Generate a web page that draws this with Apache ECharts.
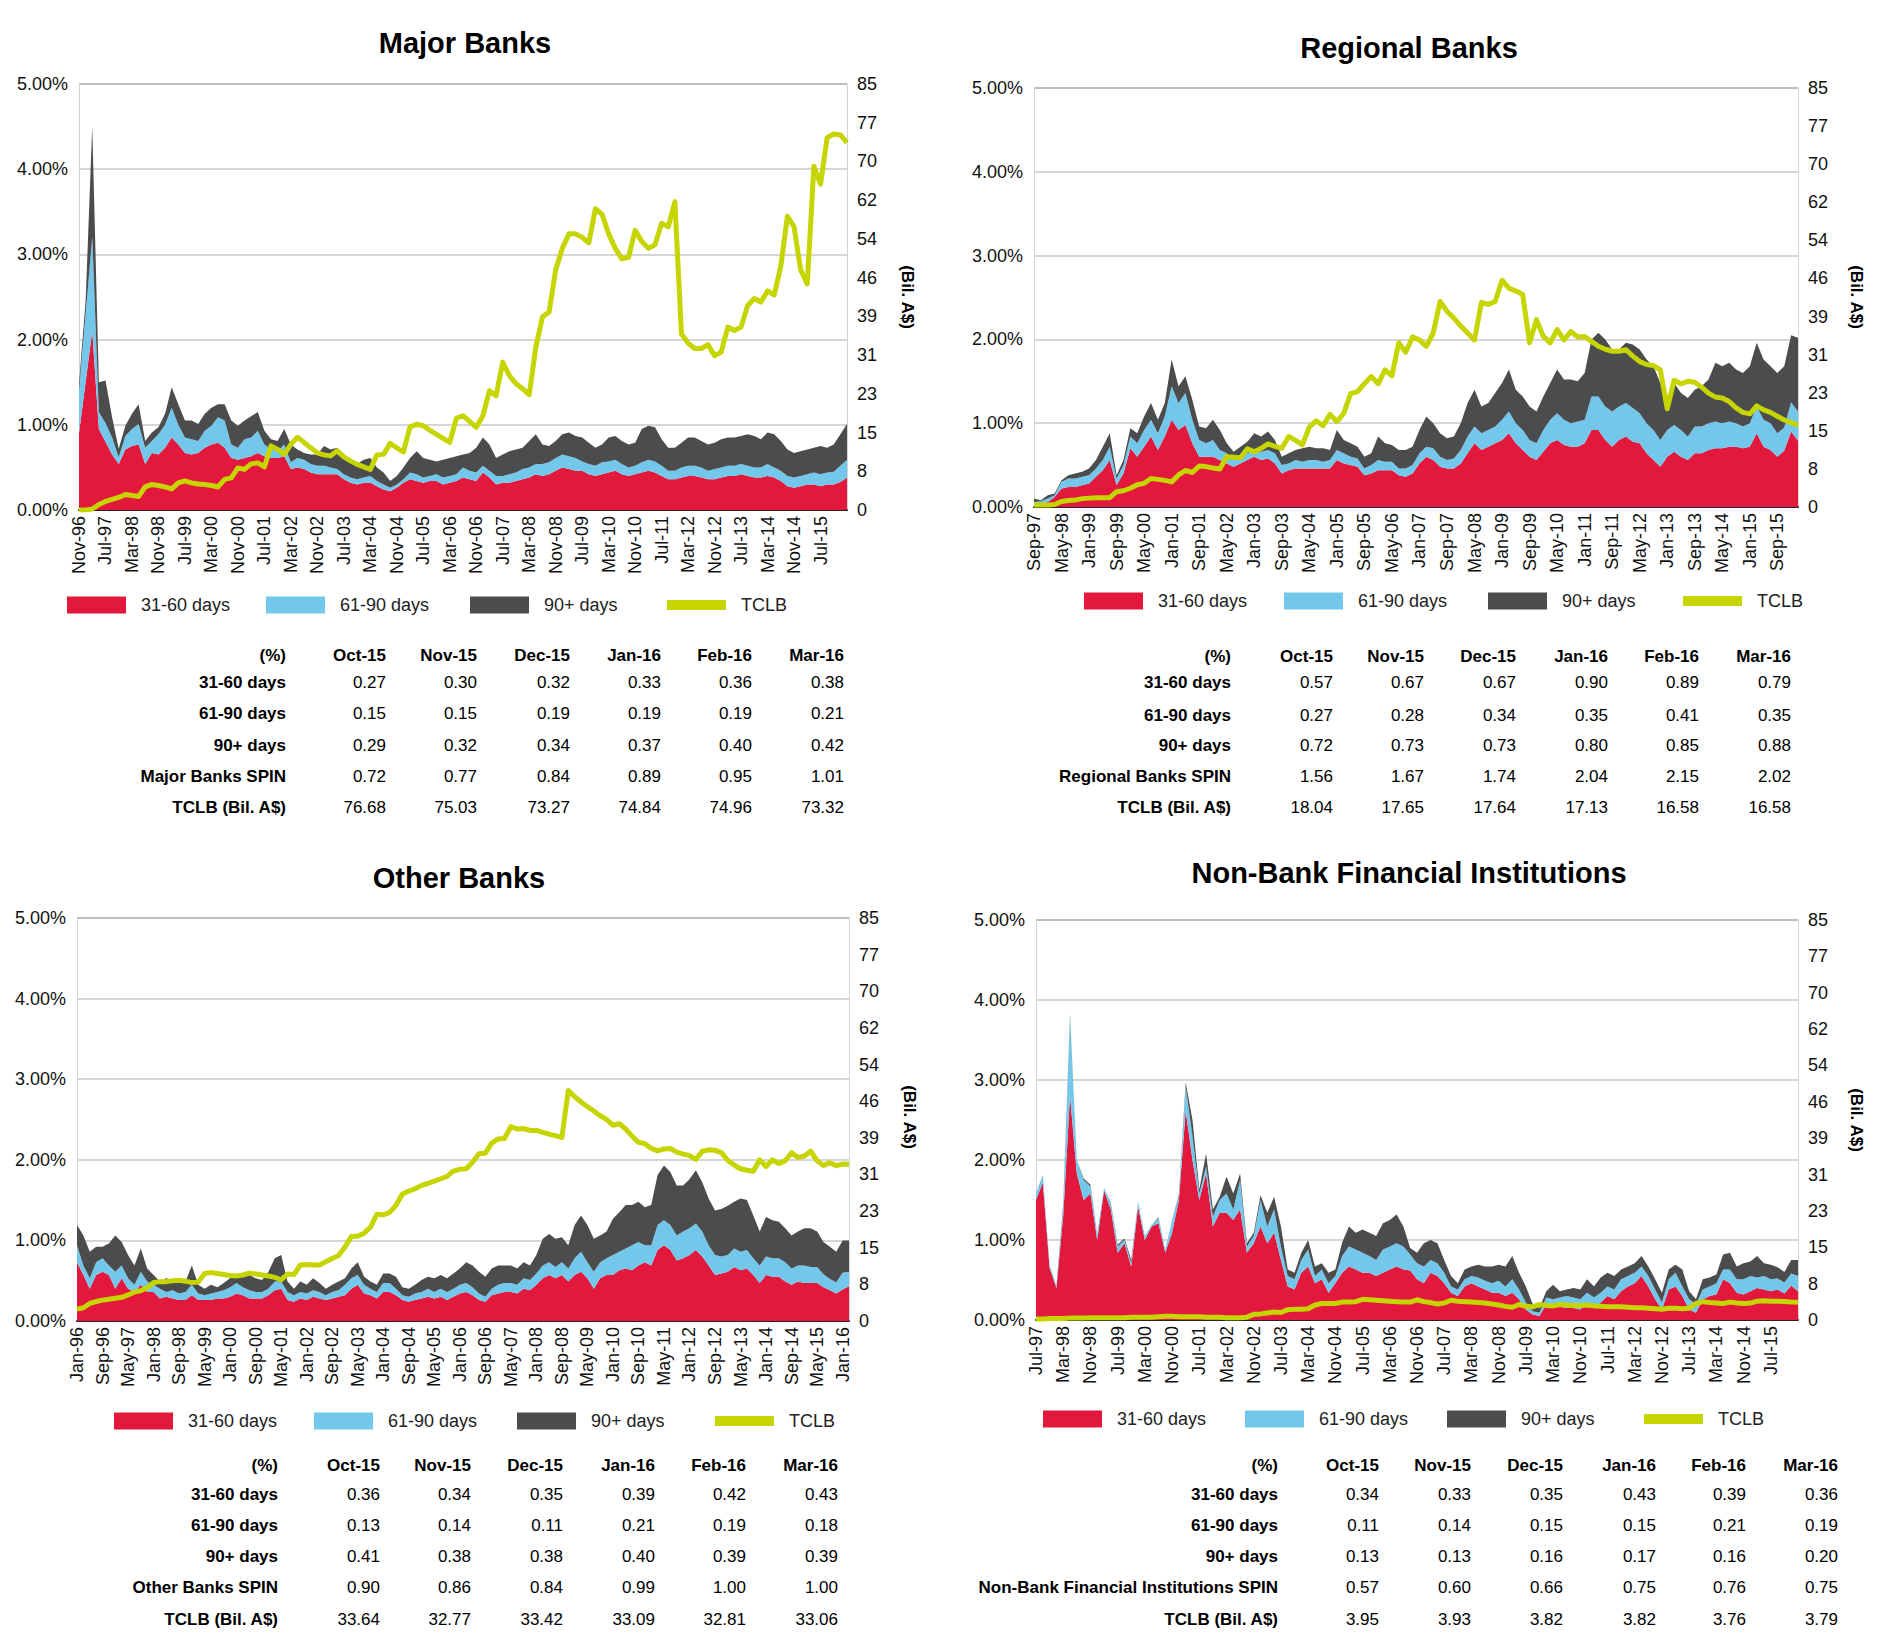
<!DOCTYPE html>
<html><head><meta charset="utf-8">
<script src="https://cdn.jsdelivr.net/npm/echarts@6/dist/echarts.min.js"></script>
<style>html,body{margin:0;padding:0;background:#fff}#c{width:1880px;height:1645px}</style>
</head><body><div id="c"></div>
<script>
// ---------------- DATA (bi-monthly readings, %) ----------------
const majorRed=[0.90,1.50,2.10,0.95,0.80,0.65,0.54,0.71,0.75,0.77,0.54,0.67,0.65,0.73,0.85,0.77,0.67,0.65,0.67,0.73,0.77,0.79,0.73,0.61,0.59,0.61,0.63,0.67,0.63,0.61,0.61,0.63,0.48,0.50,0.48,0.44,0.42,0.42,0.42,0.42,0.36,0.32,0.30,0.32,0.32,0.28,0.24,0.22,0.26,0.32,0.36,0.34,0.32,0.34,0.34,0.30,0.32,0.34,0.38,0.36,0.34,0.44,0.38,0.30,0.32,0.32,0.34,0.36,0.38,0.42,0.40,0.42,0.46,0.50,0.48,0.46,0.46,0.42,0.40,0.42,0.44,0.46,0.42,0.40,0.42,0.44,0.46,0.44,0.40,0.36,0.36,0.38,0.40,0.40,0.38,0.36,0.36,0.38,0.40,0.40,0.42,0.40,0.38,0.38,0.40,0.38,0.34,0.28,0.26,0.28,0.30,0.30,0.28,0.30,0.30,0.33,0.38];
const majorBlue=[0.50,0.80,1.10,0.20,0.22,0.20,0.08,0.16,0.20,0.24,0.19,0.14,0.24,0.27,0.35,0.23,0.18,0.18,0.14,0.20,0.22,0.30,0.32,0.16,0.14,0.22,0.22,0.26,0.14,0.10,0.08,0.14,0.08,0.11,0.11,0.10,0.10,0.10,0.08,0.06,0.06,0.06,0.06,0.06,0.08,0.06,0.06,0.04,0.04,0.04,0.08,0.08,0.06,0.06,0.08,0.08,0.08,0.08,0.12,0.10,0.10,0.08,0.08,0.10,0.08,0.10,0.10,0.12,0.12,0.12,0.14,0.14,0.15,0.15,0.15,0.15,0.11,0.12,0.12,0.14,0.13,0.13,0.12,0.10,0.10,0.12,0.13,0.13,0.12,0.10,0.10,0.12,0.12,0.12,0.12,0.10,0.12,0.12,0.12,0.12,0.12,0.12,0.12,0.12,0.14,0.12,0.12,0.12,0.12,0.12,0.12,0.14,0.14,0.14,0.15,0.19,0.21];
const majorDark=[0.08,0.15,1.30,0.35,0.50,0.24,0.10,0.12,0.18,0.23,0.08,0.10,0.08,0.13,0.24,0.24,0.20,0.22,0.20,0.20,0.21,0.15,0.19,0.28,0.26,0.22,0.25,0.22,0.16,0.12,0.12,0.18,0.21,0.10,0.08,0.11,0.13,0.23,0.21,0.25,0.23,0.21,0.18,0.21,0.21,0.16,0.14,0.08,0.10,0.14,0.17,0.27,0.23,0.19,0.15,0.21,0.21,0.21,0.15,0.21,0.29,0.33,0.31,0.21,0.25,0.27,0.27,0.25,0.31,0.35,0.23,0.19,0.20,0.24,0.28,0.26,0.28,0.25,0.21,0.21,0.28,0.28,0.27,0.27,0.27,0.39,0.40,0.40,0.31,0.27,0.27,0.29,0.33,0.33,0.31,0.31,0.31,0.33,0.33,0.33,0.33,0.37,0.37,0.33,0.37,0.39,0.35,0.31,0.29,0.29,0.29,0.29,0.33,0.29,0.32,0.37,0.42];
const majorTclb=[0,0,0.2,1.1,1.7,2.1,2.5,3.1,2.9,2.7,4.6,5.1,4.9,4.6,4.2,5.4,5.8,5.4,5.2,5.1,4.9,4.6,6.1,6.4,8.4,8.1,9.2,9.4,8.6,12.8,12.1,11.1,13.1,14.5,13.5,12.4,11.4,11.0,10.8,11.8,10.6,9.8,9.1,8.6,8.1,11.0,11.1,13.3,12.4,11.6,16.6,17.1,16.8,15.9,15.1,14.3,13.5,18.3,18.8,17.7,16.5,18.8,23.8,22.8,29.5,26.8,25.2,24.2,23.0,32.5,38.5,39.5,47.9,52.2,55.1,55.1,54.4,53.3,60.1,59.0,55.1,52.2,50.1,50.4,55.8,53.6,52.2,52.9,57.2,56.5,61.5,35.1,33.3,32.2,32.2,33.0,30.8,31.5,36.5,35.8,36.5,40.8,42.2,41.5,43.7,42.9,48.6,58.6,56.5,47.9,45.1,68.6,65.0,74.3,75.03,74.84,73.32];

const regionalRed=[0.02,0.04,0.06,0.12,0.22,0.24,0.24,0.26,0.28,0.36,0.44,0.56,0.26,0.40,0.70,0.60,0.72,0.84,0.68,0.84,1.04,0.92,0.98,0.76,0.60,0.60,0.60,0.56,0.52,0.48,0.52,0.56,0.60,0.56,0.58,0.52,0.40,0.44,0.46,0.46,0.46,0.46,0.46,0.46,0.56,0.52,0.50,0.48,0.38,0.40,0.44,0.44,0.44,0.38,0.36,0.40,0.52,0.60,0.56,0.48,0.46,0.46,0.52,0.64,0.76,0.68,0.72,0.76,0.80,0.88,0.76,0.68,0.60,0.56,0.66,0.76,0.80,0.74,0.72,0.72,0.76,0.92,0.92,0.80,0.72,0.80,0.84,0.78,0.76,0.64,0.56,0.48,0.60,0.66,0.60,0.56,0.64,0.64,0.68,0.70,0.70,0.72,0.72,0.70,0.72,0.88,0.72,0.68,0.60,0.67,0.90,0.79];
const regionalBlue=[0.04,0.03,0.04,0.02,0.08,0.10,0.10,0.10,0.10,0.10,0.12,0.16,0.08,0.10,0.14,0.16,0.20,0.20,0.20,0.24,0.40,0.32,0.38,0.28,0.20,0.16,0.20,0.12,0.12,0.08,0.08,0.08,0.08,0.10,0.10,0.12,0.10,0.08,0.10,0.08,0.10,0.10,0.08,0.10,0.12,0.12,0.10,0.10,0.08,0.10,0.12,0.10,0.10,0.08,0.10,0.10,0.12,0.12,0.14,0.12,0.10,0.12,0.16,0.20,0.20,0.20,0.20,0.20,0.24,0.26,0.24,0.24,0.20,0.20,0.26,0.28,0.32,0.30,0.28,0.30,0.28,0.40,0.40,0.40,0.42,0.40,0.40,0.40,0.36,0.36,0.36,0.32,0.32,0.32,0.32,0.28,0.32,0.32,0.32,0.32,0.30,0.30,0.28,0.26,0.28,0.32,0.32,0.32,0.28,0.28,0.35,0.35];
const regionalDark=[0.04,0.01,0.04,0.02,0.02,0.04,0.06,0.06,0.08,0.10,0.16,0.16,0.04,0.06,0.10,0.12,0.16,0.20,0.16,0.16,0.32,0.20,0.20,0.24,0.16,0.18,0.24,0.24,0.12,0.10,0.12,0.14,0.20,0.18,0.22,0.16,0.10,0.12,0.12,0.16,0.16,0.14,0.16,0.12,0.24,0.16,0.16,0.14,0.14,0.14,0.28,0.22,0.20,0.22,0.22,0.22,0.28,0.36,0.30,0.28,0.26,0.26,0.32,0.40,0.44,0.32,0.32,0.40,0.44,0.50,0.40,0.40,0.40,0.38,0.40,0.44,0.52,0.48,0.52,0.48,0.56,0.68,0.76,0.80,0.74,0.68,0.72,0.76,0.76,0.76,0.76,0.68,0.40,0.50,0.44,0.46,0.44,0.48,0.52,0.70,0.68,0.70,0.64,0.64,0.68,0.76,0.72,0.68,0.72,0.73,0.80,0.88];
const regionalTclb=[0.4,0.4,0.4,0.5,1.1,1.3,1.4,1.7,1.8,1.9,1.9,1.9,3.1,3.3,3.8,4.5,4.8,5.8,5.6,5.4,5.1,6.5,7.4,7.0,8.3,8.2,7.9,7.7,10.2,10.1,10.0,11.8,11.2,11.9,12.8,12.3,11.9,14.3,13.5,12.6,16.2,17.5,16.5,18.8,17.3,19.0,23.0,23.4,25.0,26.5,25.0,27.8,26.6,33.3,31.4,34.5,33.9,32.6,35.3,41.7,39.7,38.3,36.7,35.3,33.9,41.5,41.1,41.7,46.0,44.4,43.8,43.1,33.3,38.0,34.6,33.3,36.0,33.9,35.6,34.5,34.6,33.6,32.6,32.0,31.6,31.6,31.9,30.6,29.5,28.9,28.7,27.8,19.9,25.7,25.0,25.5,25.3,24.3,23.1,22.3,22.1,21.4,20.1,19.2,18.9,20.5,19.7,19.2,18.4,17.65,17.13,16.58];

const otherRed=[0.73,0.57,0.40,0.57,0.61,0.57,0.40,0.53,0.40,0.36,0.45,0.36,0.36,0.28,0.30,0.28,0.26,0.26,0.32,0.26,0.26,0.26,0.28,0.28,0.30,0.34,0.32,0.28,0.28,0.28,0.32,0.38,0.40,0.26,0.24,0.28,0.26,0.30,0.28,0.26,0.28,0.30,0.32,0.40,0.45,0.34,0.32,0.28,0.36,0.36,0.32,0.26,0.24,0.26,0.28,0.30,0.28,0.30,0.26,0.30,0.34,0.36,0.32,0.26,0.24,0.32,0.34,0.36,0.36,0.34,0.40,0.38,0.45,0.53,0.57,0.53,0.57,0.49,0.57,0.61,0.53,0.40,0.53,0.57,0.57,0.63,0.65,0.63,0.69,0.73,0.69,0.88,0.94,0.88,0.75,0.78,0.82,0.88,0.80,0.69,0.57,0.59,0.61,0.67,0.63,0.65,0.57,0.47,0.57,0.55,0.55,0.49,0.45,0.49,0.47,0.47,0.47,0.42,0.38,0.34,0.39,0.43];
const otherBlue=[0.21,0.12,0.13,0.16,0.17,0.12,0.21,0.16,0.13,0.09,0.16,0.13,0.09,0.12,0.06,0.10,0.08,0.10,0.13,0.08,0.06,0.08,0.08,0.10,0.12,0.13,0.10,0.10,0.08,0.08,0.08,0.11,0.09,0.10,0.08,0.08,0.08,0.08,0.08,0.06,0.08,0.08,0.13,0.13,0.12,0.11,0.08,0.08,0.11,0.11,0.08,0.06,0.06,0.08,0.08,0.10,0.08,0.10,0.10,0.10,0.11,0.11,0.10,0.08,0.06,0.08,0.11,0.11,0.11,0.11,0.13,0.13,0.14,0.16,0.16,0.14,0.16,0.16,0.21,0.25,0.20,0.21,0.20,0.21,0.25,0.23,0.25,0.31,0.29,0.21,0.25,0.31,0.31,0.31,0.31,0.33,0.33,0.33,0.31,0.25,0.25,0.21,0.21,0.23,0.23,0.23,0.21,0.22,0.23,0.23,0.23,0.24,0.20,0.20,0.22,0.20,0.20,0.16,0.14,0.14,0.21,0.18];
const otherDark=[0.25,0.37,0.33,0.19,0.14,0.27,0.45,0.29,0.29,0.24,0.29,0.16,0.12,0.09,0.17,0.13,0.15,0.13,0.24,0.11,0.08,0.11,0.06,0.09,0.11,0.10,0.15,0.19,0.17,0.15,0.21,0.29,0.33,0.13,0.08,0.13,0.11,0.15,0.11,0.08,0.09,0.11,0.08,0.12,0.16,0.10,0.09,0.09,0.12,0.12,0.15,0.10,0.10,0.11,0.15,0.15,0.17,0.17,0.17,0.19,0.20,0.26,0.27,0.27,0.25,0.25,0.24,0.22,0.22,0.20,0.20,0.18,0.23,0.33,0.35,0.35,0.31,0.29,0.41,0.45,0.46,0.41,0.33,0.33,0.45,0.49,0.54,0.50,0.50,0.47,0.50,0.62,0.68,0.66,0.62,0.57,0.61,0.66,0.61,0.58,0.55,0.59,0.61,0.58,0.66,0.62,0.53,0.42,0.49,0.47,0.45,0.42,0.41,0.42,0.46,0.48,0.44,0.40,0.40,0.38,0.40,0.39];
const otherTclb=[2.5,2.8,3.7,4.1,4.4,4.6,4.8,5.0,5.5,6.1,6.4,7.0,8.1,8.3,8.3,8.5,8.6,8.4,8.1,8.2,10.0,10.2,10.0,9.8,9.6,9.5,9.7,10.1,9.9,9.7,9.5,9.2,8.7,9.9,9.8,11.8,11.9,11.8,11.8,12.5,13.2,13.8,15.6,17.8,17.9,18.5,19.8,22.5,22.4,22.9,24.4,26.8,27.4,27.9,28.6,29.0,29.5,30.0,30.5,31.6,32.0,32.1,33.5,35.3,35.4,37.5,38.4,38.5,41.0,40.5,40.6,40.2,40.2,39.8,39.4,39.1,38.7,48.6,47.3,46.2,45.2,44.3,43.3,42.5,41.3,41.6,40.5,39.0,37.7,37.4,36.4,35.9,36.3,36.4,35.6,35.2,34.9,34.1,35.8,36.1,36.0,35.5,33.9,32.9,32.1,31.8,31.6,34.0,32.6,34.0,33.2,33.8,35.5,34.5,34.8,35.8,33.8,32.8,33.4,32.77,33.09,33.06];

const nbfiRed=[1.50,1.72,0.65,0.40,1.30,2.80,1.83,1.50,1.58,1.00,1.62,1.38,0.84,0.96,0.67,1.42,1.00,1.17,1.21,0.84,1.09,1.50,2.62,2.00,1.50,1.83,1.17,1.34,1.34,1.25,1.38,0.84,0.96,1.17,0.96,1.09,0.75,0.42,0.38,0.59,0.67,0.46,0.51,0.34,0.46,0.59,0.67,0.63,0.59,0.59,0.55,0.59,0.63,0.67,0.63,0.62,0.51,0.46,0.59,0.55,0.46,0.34,0.30,0.42,0.46,0.42,0.38,0.34,0.34,0.30,0.34,0.26,0.13,0.07,0.05,0.20,0.15,0.17,0.15,0.15,0.13,0.22,0.15,0.22,0.30,0.26,0.36,0.42,0.46,0.55,0.42,0.26,0.13,0.38,0.42,0.30,0.13,0.09,0.26,0.30,0.32,0.51,0.46,0.34,0.32,0.36,0.40,0.38,0.36,0.38,0.33,0.43,0.36];
const nbfiBlue=[0.08,0.08,0.04,0.03,0.10,1.00,0.17,0.25,0.09,0.08,0.03,0.08,0.08,0.04,0.04,0.06,0.05,0.02,0.06,0.04,0.16,0.05,0.30,0.30,0.08,0.09,0.12,0.16,0.24,0.13,0.37,0.08,0.09,0.33,0.21,0.29,0.17,0.13,0.13,0.16,0.21,0.09,0.12,0.12,0.09,0.21,0.25,0.25,0.25,0.21,0.20,0.29,0.29,0.29,0.29,0.20,0.20,0.21,0.16,0.16,0.13,0.08,0.08,0.09,0.09,0.11,0.11,0.12,0.15,0.12,0.17,0.12,0.09,0.04,0.04,0.08,0.11,0.11,0.15,0.13,0.13,0.12,0.13,0.12,0.12,0.12,0.15,0.13,0.13,0.12,0.13,0.12,0.09,0.13,0.17,0.12,0.13,0.11,0.12,0.12,0.14,0.12,0.17,0.17,0.19,0.19,0.13,0.17,0.15,0.14,0.14,0.15,0.19];
const nbfiDark=[0,0.01,0,0,0.05,0.03,0,0.02,0.02,0,0,0.01,0.02,0.02,0.04,0,0,0,0.01,0,0,0.02,0.05,0.20,0.05,0.16,0.09,0.04,0.21,0.20,0.08,0.04,0.04,0.06,0.17,0.16,0.25,0.08,0.08,0.09,0.12,0.12,0.08,0.13,0.08,0.17,0.25,0.21,0.29,0.29,0.30,0.33,0.33,0.36,0.25,0.08,0.13,0.29,0.25,0.25,0.16,0.13,0.08,0.12,0.12,0.16,0.18,0.21,0.20,0.25,0.29,0.21,0.20,0.09,0.06,0.08,0.18,0.08,0.08,0.12,0.12,0.17,0.14,0.19,0.17,0.17,0.12,0.12,0.12,0.13,0.12,0.13,0.12,0.12,0.10,0.21,0.10,0.06,0.13,0.11,0.11,0.19,0.21,0.16,0.20,0.18,0.27,0.16,0.18,0.14,0.13,0.17,0.20];
const nbfiTclb=[0.2,0.2,0.3,0.3,0.3,0.4,0.4,0.4,0.5,0.5,0.5,0.5,0.5,0.5,0.6,0.6,0.6,0.6,0.7,0.8,0.8,0.7,0.7,0.7,0.7,0.6,0.6,0.6,0.5,0.5,0.5,0.6,1.2,1.3,1.5,1.7,1.6,2.2,2.3,2.3,2.4,3.2,3.5,3.5,3.5,3.8,3.8,3.9,4.4,4.3,4.2,4.1,4.0,3.9,3.8,3.8,4.3,3.9,3.7,3.4,3.6,4.2,4.0,3.9,3.8,3.7,3.6,3.4,3.2,2.9,2.7,3.3,2.9,2.8,3.3,3.1,3.0,3.3,3.2,3.1,3.1,3.2,3.0,2.9,2.8,2.8,2.8,2.7,2.6,2.6,2.5,2.4,2.3,2.5,2.5,2.4,2.5,3.5,3.9,3.7,3.6,3.5,3.8,3.6,3.5,3.6,4.0,4.1,4.0,4.0,3.93,3.82,3.79];

const leftTickLabels=['0.00%','1.00%','2.00%','3.00%','4.00%','5.00%'];
const rightTickLabels=['0','8','15','23','31','39','46','54','62','70','77','85'];
const seriesNames=['31-60 days','61-90 days','90+ days','TCLB'];
const tableMonths=['Oct-15','Nov-15','Dec-15','Jan-16','Feb-16','Mar-16'];
const tableRowNames=['31-60 days','61-90 days','90+ days'];
const majorTable=[['0.27','0.30','0.32','0.33','0.36','0.38'],['0.15','0.15','0.19','0.19','0.19','0.21'],['0.29','0.32','0.34','0.37','0.40','0.42'],['0.72','0.77','0.84','0.89','0.95','1.01'],['76.68','75.03','73.27','74.84','74.96','73.32']];
const regionalTable=[['0.57','0.67','0.67','0.90','0.89','0.79'],['0.27','0.28','0.34','0.35','0.41','0.35'],['0.72','0.73','0.73','0.80','0.85','0.88'],['1.56','1.67','1.74','2.04','2.15','2.02'],['18.04','17.65','17.64','17.13','16.58','16.58']];
const otherTable=[['0.36','0.34','0.35','0.39','0.42','0.43'],['0.13','0.14','0.11','0.21','0.19','0.18'],['0.41','0.38','0.38','0.40','0.39','0.39'],['0.90','0.86','0.84','0.99','1.00','1.00'],['33.64','32.77','33.42','33.09','32.81','33.06']];
const nbfiTable=[['0.34','0.33','0.35','0.43','0.39','0.36'],['0.11','0.14','0.15','0.15','0.21','0.19'],['0.13','0.13','0.16','0.17','0.16','0.20'],['0.57','0.60','0.66','0.75','0.76','0.75'],['3.95','3.93','3.82','3.82','3.76','3.79']];
// last labelled category on each x axis (labels every 8 months)
const majorLastTick='Jul-15', regionalLastTick='Sep-15', otherLastTick='Jan-16', nbfiLastTick='Jul-15';

// bi-monthly category labels
const MON=['Jan','Feb','Mar','Apr','May','Jun','Jul','Aug','Sep','Oct','Nov','Dec'];
function monthLabels(m0,y0,n){const a=[];let m=m0,y=y0;for(let k=0;k<n;k++){a.push(MON[m]+'-'+String(y%100).padStart(2,'0'));m+=2;if(m>11){m-=12;y++;}}return a;}
const majorCats=monthLabels(10,1996,majorRed.length);
const regionalCats=monthLabels(8,1997,regionalRed.length);
const otherCats=monthLabels(0,1996,otherRed.length);
const nbfiCats=monthLabels(6,1997,nbfiRed.length);

// ---------------- LAYOUT / STYLE ----------------
const RED='#e2183d',BLUE='#73c7eb',DARK='#4b4c4e',LIME='#c6d400';
const FONT='"Liberation Sans", Arial, Helvetica, sans-serif';
const panels=[
 {title:'Major Banks',tx:465,ty:43,grid:{left:79,top:84,width:768,height:426},bil:[907,297],legY:606,legX:[67,266,470,667],
  rowsY:[655,682,713,745,776,807],labR:286,cols:[386,477,570,661,752,844],cats:majorCats,last:majorLastTick,d:[majorRed,majorBlue,majorDark,majorTclb],spin:'Major Banks SPIN',tab:majorTable},
 {title:'Regional Banks',tx:1409,ty:48,grid:{left:1034,top:88,width:764,height:419},bil:[1856,297],legY:602,legX:[1084,1284,1488,1683],
  rowsY:[656,682,715,745,776,807],labR:1231,cols:[1333,1424,1516,1608,1699,1791],cats:regionalCats,last:regionalLastTick,d:[regionalRed,regionalBlue,regionalDark,regionalTclb],spin:'Regional Banks SPIN',tab:regionalTable},
 {title:'Other Banks',tx:459,ty:878,grid:{left:77,top:918,width:772,height:403},bil:[909,1117],legY:1422,legX:[114,314,517,715],
  rowsY:[1465,1494,1525,1556,1587,1619],labR:278,cols:[380,471,563,655,746,838],cats:otherCats,last:otherLastTick,d:[otherRed,otherBlue,otherDark,otherTclb],spin:'Other Banks SPIN',tab:otherTable},
 {title:'Non-Bank Financial Institutions',tx:1409,ty:873,grid:{left:1036,top:920,width:762,height:400},bil:[1856,1120],legY:1420,legX:[1043,1245,1447,1644],
  rowsY:[1465,1494,1525,1556,1587,1619],labR:1278,cols:[1379,1471,1563,1656,1746,1838],cats:nbfiCats,last:nbfiLastTick,d:[nbfiRed,nbfiBlue,nbfiDark,nbfiTclb],spin:'Non-Bank Financial Institutions SPIN',tab:nbfiTable}
];

const grids=[],xAxes=[],yAxes=[],series=[],legends=[],graphics=[];
function txt(x,y,text,font,align,extra){return Object.assign({type:'text',x:x,y:y,silent:true,style:{text:text,font:font,fill:'#000',align:align,verticalAlign:'middle',textAlign:align,textVerticalAlign:'middle'}},extra||{});}
const colors=[RED,BLUE,DARK];
panels.forEach((p,k)=>{
  const lastIdx=p.cats.indexOf(p.last);
  grids.push(Object.assign({containLabel:false,outerBoundsMode:'none'},p.grid));
  xAxes.push({gridIndex:k,type:'category',data:p.cats,boundaryGap:false,
    axisLine:{onZero:false,lineStyle:{color:'#222',width:2}},axisTick:{show:false},splitLine:{show:false},
    axisLabel:{interval:(i)=>i%4===0&&i<=lastIdx,rotate:90,fontSize:18,color:'#111',fontFamily:FONT,margin:6}});
  yAxes.push({gridIndex:k,type:'value',min:0,max:5,interval:1,position:'left',
    axisLine:{show:true,lineStyle:{color:'#d4d4d4',width:1}},axisTick:{show:false},
    splitLine:{show:true,lineStyle:{color:['#b5b5b5','#c8c8c8','#c8c8c8','#c8c8c8','#c8c8c8','#a8a8a8'],width:1.5}},
    axisLabel:{formatter:v=>leftTickLabels[Math.round(v)],fontSize:18,color:'#111',fontFamily:FONT,margin:11}});
  yAxes.push({gridIndex:k,type:'value',min:0,max:85,interval:85/11,position:'right',
    axisLine:{show:true,lineStyle:{color:'#d4d4d4',width:1}},axisTick:{show:false},splitLine:{show:false},
    axisLabel:{formatter:v=>{const i=Math.round(v*11/85);return Math.abs(i*85/11-v)<1e-6?rightTickLabels[i]:'';},fontSize:18,color:'#111',fontFamily:FONT,margin:10}});
  for(let j=0;j<3;j++){
    series.push({name:seriesNames[j],type:'line',xAxisIndex:k,yAxisIndex:2*k,stack:'s'+k,data:p.d[j],symbol:'none',silent:true,
      lineStyle:{width:0},areaStyle:{color:colors[j],opacity:1},itemStyle:{color:colors[j]},emphasis:{disabled:true},z:2});
  }
  series.push({name:'TCLB',type:'line',xAxisIndex:k,yAxisIndex:2*k+1,data:p.d[3],symbol:'none',silent:true,
    lineStyle:{width:5,color:LIME,join:'round'},itemStyle:{color:LIME},emphasis:{disabled:true},z:5});
  seriesNames.forEach((nm,j)=>{
    legends.push({data:[nm],left:p.legX[j],top:p.legY-10,padding:0,itemWidth:59,itemHeight:j===3?10:17,icon:'rect',selectedMode:false,
      textStyle:{fontSize:18,color:'#222',fontFamily:FONT,padding:[0,0,0,10]}});
  });
  graphics.push(txt(p.tx,p.ty,p.title,'bold 29px '+FONT,'center'));
  graphics.push(txt(p.bil[0],p.bil[1],'(Bil. A$)','bold 17px '+FONT,'center',{rotation:-Math.PI/2}));
  // table
  graphics.push(txt(p.labR,p.rowsY[0],'(%)','bold 17px '+FONT,'right'));
  tableMonths.forEach((m,c)=>graphics.push(txt(p.cols[c],p.rowsY[0],m,'bold 17px '+FONT,'right')));
  const labels=tableRowNames.concat([p.spin,'TCLB (Bil. A$)']);
  labels.forEach((lb,r)=>{
    graphics.push(txt(p.labR,p.rowsY[r+1],lb,'bold 17px '+FONT,'right'));
    p.tab[r].forEach((v,c)=>graphics.push(txt(p.cols[c],p.rowsY[r+1],v,'17px '+FONT,'right')));
  });
});

const chart=echarts.init(document.getElementById('c'),null,{renderer:'svg',width:1880,height:1645});
chart.setOption({animation:false,backgroundColor:'#fff',grid:grids,xAxis:xAxes,yAxis:yAxes,series:series,legend:legends,graphic:{elements:graphics}});
</script></body></html>
